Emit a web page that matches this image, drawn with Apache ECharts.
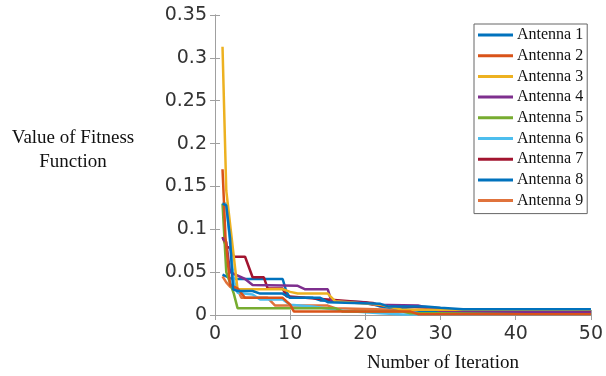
<!DOCTYPE html>
<html>
<head>
<meta charset="utf-8">
<script src="https://cdn.jsdelivr.net/npm/echarts@6/dist/echarts.min.js"></script>
<style>
html,body{margin:0;padding:0;background:#fff;}
#chart{width:606px;height:376px;}
</style>
</head>
<body>
<div id="chart"></div>
<script>
var seriesNames = ['Antenna 1','Antenna 2','Antenna 3','Antenna 4','Antenna 5','Antenna 6','Antenna 7','Antenna 8','Antenna 9'];
var seriesColors = ['#0072BD','#D95319','#EDB120','#7E2F8E','#77AC30','#4DBEEE','#A2142F','#0072BD','#E0733C'];
var yTicks = [0,0.05,0.1,0.15,0.2,0.25,0.3,0.35];
var xTicks = [0,10,20,30,40,50];

var antenna1 = [[1,0.13],[1.5,0.128],[2,0.09],[2.4,0.03],[3,0.028],[5,0.028],[6,0.025],[9,0.025],[10,0.02],[14,0.02],[15,0.015],[22,0.013],[23,0.01],[28,0.01],[30,0.0085],[33,0.0068],[50,0.0068]];
var antenna2 = [[1,0.17],[1.4,0.09],[2,0.035],[3,0.031],[4,0.02],[9,0.02],[10,0.012],[10.5,0.004],[26,0.004],[27,0.001],[50,0.001]];
var antenna3 = [[1,0.313],[1.5,0.145],[3,0.03],[9,0.03],[10,0.027],[11,0.025],[15,0.025],[16,0.016],[22,0.012],[25,0.006],[50,0.006]];
var antenna4 = [[1,0.09],[1.5,0.085],[2,0.05],[4,0.042],[5,0.035],[11,0.034],[12,0.03],[15,0.03],[15.5,0.016],[20,0.014],[21,0.012],[27,0.011],[30,0.005],[50,0.003]];
var antenna5 = [[1,0.13],[1.5,0.05],[2.5,0.025],[3,0.008],[16,0.008],[17,0.004],[25,0.004],[26,0.002],[50,0.002]];
var antenna6 = [[1,0.13],[1.5,0.13],[2,0.085],[2.5,0.04],[3,0.026],[5,0.024],[6,0.018],[9,0.018],[10,0.012],[13,0.01],[17,0.005],[22,0.002],[25,0.0005],[50,0.0005]];
var antenna7 = [[1,0.091],[1.5,0.08],[2,0.078],[2.5,0.068],[4,0.068],[5,0.044],[6.5,0.044],[7,0.031],[9,0.031],[9.5,0.022],[12,0.02],[18,0.016],[21,0.014],[22,0.011],[30,0.008],[32,0.005],[50,0.005]];
var antenna8 = [[1,0.047],[1.5,0.045],[2,0.043],[3,0.042],[9,0.042],[9.5,0.027],[10,0.02],[13,0.02],[14,0.017],[20,0.015],[22,0.01],[26,0.006],[28,0.004],[30,0.003],[50,0.003]];
var antenna9 = [[1,0.045],[1.5,0.038],[2,0.033],[3,0.03],[3.5,0.02],[7,0.02],[8,0.011],[15,0.011],[16,0.008],[24,0.006],[27,0.002],[50,0.002]];
var allData = [antenna1,antenna2,antenna3,antenna4,antenna5,antenna6,antenna7,antenna8,antenna9];

var frameColor = '#a0a0a0';
var tickFont = {fontFamily:'DejaVu Sans', fontSize:19, color:'#333'};

var chart = echarts.init(document.getElementById('chart'), null, {renderer:'canvas'});
var series = seriesNames.map(function(n,i){
  return {name:n, type:'line', data:allData[i], symbol:'none', showSymbol:false,
    lineStyle:{width:2.5, color:seriesColors[i]}, itemStyle:{color:seriesColors[i]}, z:2+(9-i), animation:false};
});
chart.setOption({
  animation:false,
  grid:{left:215, right:11, top:15, bottom:61, containLabel:false},
  graphic:[
    {type:'text', x:73, y:150, style:{text:'Value of Fitness\nFunction', font:'19px "Liberation Serif"', fill:'#111', textAlign:'center', textVerticalAlign:'middle', lineHeight:24}},
    {type:'text', x:443, y:363, style:{text:'Number of Iteration', font:'19px "Liberation Serif"', fill:'#111', textAlign:'center', textVerticalAlign:'middle'}}
  ],
  legend:{orient:'vertical', left:474, top:24, width:112, data:seriesNames, icon:'rect', itemWidth:35, itemHeight:3, itemGap:4.7,
    padding:[3,4,5,4], borderColor:'#666', borderWidth:1, backgroundColor:'#fff',
    textStyle:{fontFamily:'Liberation Serif', fontSize:16, color:'#111', padding:[0,0,0,-1]}},
  xAxis:[{type:'value', min:0, max:50, interval:10, position:'bottom',
    axisLine:{show:true, lineStyle:{color:frameColor}}, axisTick:{show:true, inside:true, length:5, lineStyle:{color:frameColor}},
    axisLabel:Object.assign({margin:10, formatter:function(v){return xTicks.indexOf(v)>=0?String(v):'';}}, tickFont), splitLine:{show:false}},
   {type:'value', min:0, max:50, interval:10, position:'top', axisLine:{show:true, lineStyle:{color:frameColor}},
    axisTick:{show:true, inside:true, length:5, lineStyle:{color:frameColor}}, axisLabel:{show:false}, splitLine:{show:false}}],
  yAxis:[{type:'value', min:0, max:0.35, interval:0.05, position:'left',
    axisLine:{show:true, lineStyle:{color:frameColor}}, axisTick:{show:true, inside:true, length:5, lineStyle:{color:frameColor}},
    axisLabel:Object.assign({margin:8, formatter:function(v){var r=Math.round(v*100)/100; return String(r);}}, tickFont), splitLine:{show:false}},
   {type:'value', min:0, max:0.35, interval:0.05, position:'right', axisLine:{show:true, lineStyle:{color:frameColor}},
    axisTick:{show:true, inside:true, length:5, lineStyle:{color:frameColor}}, axisLabel:{show:false}, splitLine:{show:false}}],
  series:series
});
</script>
</body>
</html>
